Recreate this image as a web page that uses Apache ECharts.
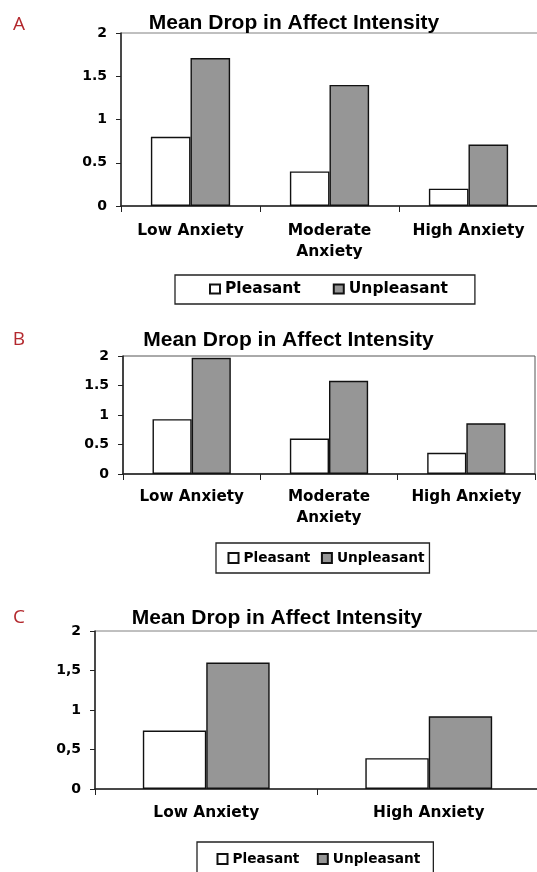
<!DOCTYPE html>
<html>
<head>
<meta charset="utf-8">
<script src="https://cdn.jsdelivr.net/npm/echarts@6/dist/echarts.min.js"></script>
<style>
html,body{margin:0;padding:0;background:#fff;}
#chart{width:537px;height:872px;}
</style>
</head>
<body>
<div id="chart"></div>
<script>
// ---- data ----
const titleText = 'Mean Drop in Affect Intensity';
const panelLetters = ['A', 'B', 'C'];
const seriesNames = ['Pleasant', 'Unpleasant'];
const yTicks = [0, 0.5, 1, 1.5, 2];

const categoriesA = ['Low Anxiety', 'Moderate\nAnxiety', 'High Anxiety'];
const pleasantA = [0.80, 0.40, 0.20];
const unpleasantA = [1.71, 1.40, 0.71];

const categoriesB = ['Low Anxiety', 'Moderate\nAnxiety', 'High Anxiety'];
const pleasantB = [0.93, 0.60, 0.36];
const unpleasantB = [1.97, 1.58, 0.86];

const categoriesC = ['Low Anxiety', 'High Anxiety'];
const pleasantC = [0.74, 0.39];
const unpleasantC = [1.60, 0.92];

// ---- layout / style ----
const LABEL_FONT = "'DejaVu Sans', Verdana, sans-serif";
const TITLE_FONT = "'Liberation Sans', Arial, sans-serif";
const LETTER_FONT = "'Open Sans', 'Noto Sans', sans-serif";

const panels = [
  { cats: categoriesA, p: pleasantA, u: unpleasantA, comma: false,
    grid: { left: 121, top: 33, width: 417, height: 173 }, border: '#808080',
    title: [294, 23], letter: [19, 25], catFont: 15.5, catMargin: 14,
    legend: { left: 175, top: 275, fontSize: 15.5, itemGap: 32, itemHeight: 9, padding: [6, 27, 7, 34] } },
  { cats: categoriesB, p: pleasantB, u: unpleasantB, comma: false,
    grid: { left: 123, top: 356, width: 412, height: 118 }, border: '#555555',
    title: [288.5, 340.5], letter: [19, 339.5], catFont: 15.2, catMargin: 13,
    legend: { left: 216, top: 543, fontSize: 13.7, itemGap: 10.5, itemHeight: 10, padding: [8, 5, 8, 11.5] } },
  { cats: categoriesC, p: pleasantC, u: unpleasantC, comma: true,
    grid: { left: 95, top: 631, width: 445, height: 158 }, border: '#808080',
    title: [277, 618], letter: [19, 617.5], catFont: 15.4, catMargin: 13,
    legend: { left: 197, top: 842, fontSize: 13.7, itemGap: 17.4, itemHeight: 10, padding: [10, 13, 10, 19.5] } }
];

const grids = [], xAxes = [], yAxes = [], series = [], legends = [], titles = [];

panels.forEach((pn, i) => {
  grids.push(Object.assign({ show: true, borderColor: pn.border, borderWidth: 1,
    backgroundColor: 'transparent', containLabel: false, outerBoundsMode: 'none' }, pn.grid));

  xAxes.push({
    type: 'category', gridIndex: i, data: pn.cats,
    axisLine: { show: true, lineStyle: { color: '#222', width: 1.5 } },
    axisTick: { show: true, alignWithLabel: false, length: 6, inside: false,
      lineStyle: { color: '#222', width: 1 } },
    axisLabel: { show: true, interval: 0, margin: pn.catMargin, color: '#000',
      fontFamily: LABEL_FONT, fontWeight: 'bold', fontSize: pn.catFont, lineHeight: 21 },
    splitLine: { show: false }
  });

  yAxes.push({
    type: 'value', gridIndex: i,
    min: yTicks[0], max: yTicks[yTicks.length - 1], interval: yTicks[1] - yTicks[0],
    axisLine: { show: true, lineStyle: { color: '#222', width: 1.5 } },
    axisTick: { show: true, length: 5, inside: false, lineStyle: { color: '#222', width: 1 } },
    axisLabel: { show: true, margin: 14, color: '#000', fontFamily: LABEL_FONT,
      fontWeight: 'bold', fontSize: 14,
      formatter: pn.comma ? (v => String(v).replace('.', ',')) : (v => String(v)) },
    splitLine: { show: false }
  });

  series.push({
    name: seriesNames[0], type: 'bar', xAxisIndex: i, yAxisIndex: i, data: pn.p,
    barGap: '0%', barCategoryGap: '43%',
    itemStyle: { color: '#ffffff', borderColor: '#111', borderWidth: 1.4 },
    emphasis: { disabled: true }, animation: false
  });
  series.push({
    name: seriesNames[1], type: 'bar', xAxisIndex: i, yAxisIndex: i, data: pn.u,
    barGap: '0%', barCategoryGap: '43%',
    itemStyle: { color: '#969696', borderColor: '#111', borderWidth: 1.4 },
    emphasis: { disabled: true }, animation: false
  });

  legends.push({
    show: true, orient: 'horizontal', left: pn.legend.left, top: pn.legend.top,
    padding: pn.legend.padding, itemGap: pn.legend.itemGap,
    itemWidth: 10, itemHeight: pn.legend.itemHeight, icon: 'rect',
    borderColor: '#222', borderWidth: 1.3, backgroundColor: '#fff',
    selectedMode: false, data: seriesNames,
    textStyle: { color: '#000', fontFamily: LABEL_FONT, fontWeight: 'bold', fontSize: pn.legend.fontSize }
  });

  titles.push({
    text: titleText, left: pn.title[0], top: pn.title[1], padding: 0,
    textAlign: 'center', textVerticalAlign: 'middle',
    textStyle: { color: '#000', fontFamily: TITLE_FONT, fontWeight: 'bold', fontSize: 21 }
  });
  titles.push({
    text: panelLetters[i], left: pn.letter[0], top: pn.letter[1], padding: 0,
    textAlign: 'center', textVerticalAlign: 'middle',
    textStyle: { color: '#b3282d', fontFamily: LETTER_FONT, fontWeight: 'normal', fontSize: 19 }
  });
});

const chart = echarts.init(document.getElementById('chart'), null, { renderer: 'canvas' });
chart.setOption({
  animation: false,
  backgroundColor: '#ffffff',
  title: titles,
  legend: legends,
  grid: grids,
  xAxis: xAxes,
  yAxis: yAxes,
  series: series
});
</script>
</body>
</html>
